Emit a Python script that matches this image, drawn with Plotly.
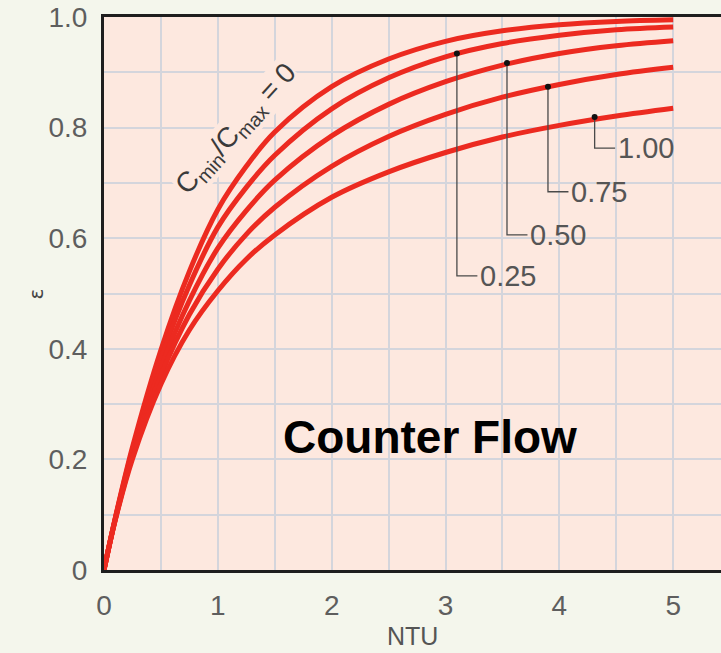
import plotly.graph_objects as go

# Data (counter-flow effectiveness vs NTU)
ntu = [0, 0.1, 0.25, 0.5, 0.75, 1, 1.25, 1.5, 2, 2.5, 3, 3.5, 4, 4.5, 5]
eff_cr_000 = [0, 0.095, 0.222, 0.398, 0.540, 0.652, 0.730, 0.792, 0.874, 0.924, 0.956, 0.975, 0.986, 0.992, 0.995]
eff_cr_025 = [0, 0.094, 0.217, 0.383, 0.515, 0.620, 0.692, 0.750, 0.834, 0.890, 0.928, 0.952, 0.967, 0.977, 0.982]
eff_cr_050 = [0, 0.093, 0.211, 0.366, 0.487, 0.582, 0.650, 0.705, 0.785, 0.842, 0.883, 0.913, 0.934, 0.948, 0.957]
eff_cr_075 = [0, 0.092, 0.206, 0.352, 0.462, 0.544, 0.607, 0.656, 0.730, 0.784, 0.824, 0.855, 0.878, 0.896, 0.909]
eff_cr_100 = [0, 0.091, 0.201, 0.336, 0.434, 0.505, 0.562, 0.606, 0.674, 0.720, 0.755, 0.783, 0.804, 0.821, 0.835]

# Leader callouts: label, dot NTU, dot effectiveness, elbow effectiveness, elbow end NTU
callout_labels = ["0.25", "0.50", "0.75", "1.00"]
callout_ntu = [3.10, 3.54, 3.90, 4.31]
callout_eff = [0.934, 0.917, 0.874, 0.819]
callout_elbow_eff = [0.532, 0.606, 0.684, 0.763]
callout_end_ntu = [3.28, 3.72, 4.08, 4.49]

x_ticks = [0, 1, 2, 3, 4, 5]
x_ticktext = ["0", "1", "2", "3", "4", "5"]
y_ticks = [0, 0.2, 0.4, 0.6, 0.8, 1.0]
y_ticktext = ["0", "0.2", "0.4", "0.6", "0.8", "1.0"]

RED = "#ec2a20"
PLOT_BG = "#fde8df"
GRID = "#d4d5dc"
TICK_COL = "#5e5e5e"

fig = go.Figure()
for series in [eff_cr_000, eff_cr_025, eff_cr_050, eff_cr_075, eff_cr_100]:
    fig.add_trace(go.Scatter(
        x=ntu, y=series, mode="lines",
        line=dict(color=RED, width=5, shape="spline", smoothing=1.0),
        showlegend=False, hoverinfo="skip"))

# leader lines
for lab, xn, ye, yb, xe in zip(callout_labels, callout_ntu, callout_eff, callout_elbow_eff, callout_end_ntu):
    fig.add_trace(go.Scatter(
        x=[xn, xn, xe], y=[ye, yb, yb], mode="lines",
        line=dict(color="#4a4a4a", width=1.3), showlegend=False, hoverinfo="skip"))
    fig.add_annotation(x=xe, y=yb, text=lab, showarrow=False, xanchor="left", yanchor="middle",
                       xshift=1, font=dict(family="Liberation Sans, Arial", size=29, color="#555555"))

fig.add_trace(go.Scatter(
    x=callout_ntu, y=callout_eff, mode="markers",
    marker=dict(color="#111111", size=6), showlegend=False, hoverinfo="skip"))

# rotated curve label
fig.add_annotation(x=1.17, y=0.796, text="C<sub>min</sub>/C<sub>max</sub> = 0", showarrow=False,
                   textangle=-48, bgcolor=PLOT_BG, borderpad=0,
                   font=dict(family="Liberation Sans, Arial", size=28, color="#3a3a3a"))

# Counter Flow text
fig.add_annotation(x=2.86, y=0.24, text="<b>Counter Flow</b>", showarrow=False,
                   font=dict(family="Liberation Sans, Arial", size=46, color="#000000"))

# axis titles
fig.add_annotation(xref="paper", yref="paper", x=0.5, y=-0.12, text="NTU", showarrow=False,
                   yanchor="middle", font=dict(family="Liberation Sans, Arial", size=25, color="#555555"))
fig.add_annotation(xref="paper", x=-0.133, yref="paper", y=0.5, text="ε", showarrow=False,
                   textangle=-90, font=dict(family="DejaVu Sans", size=20, color="#444444"))

fig.update_xaxes(range=[0, 5.42], tickvals=x_ticks, ticktext=x_ticktext,
                 showgrid=True, gridcolor=GRID, gridwidth=2,
                 minor=dict(dtick=0.5, tick0=0, showgrid=True, gridcolor=GRID, gridwidth=2),
                 zeroline=False, showline=True, linecolor="#1e1e1e", linewidth=3, mirror=True,
                 ticks="outside", ticklen=8, tickcolor="rgba(0,0,0,0)",
                 tickfont=dict(family="Liberation Sans, Arial", size=28, color=TICK_COL))
fig.update_yaxes(range=[0, 1.0], tickvals=y_ticks, ticktext=y_ticktext,
                 showgrid=True, gridcolor=GRID, gridwidth=2,
                 minor=dict(dtick=0.1, tick0=0, showgrid=True, gridcolor=GRID, gridwidth=2),
                 zeroline=False, showline=True, linecolor="#1e1e1e", linewidth=3, mirror=False,
                 ticks="outside", ticklen=8, tickcolor="rgba(0,0,0,0)",
                 tickfont=dict(family="Liberation Sans, Arial", size=28, color=TICK_COL))

fig.update_layout(width=721, height=653, margin=dict(l=104, r=0, t=17, b=83),
                  paper_bgcolor="#f4f6ec", plot_bgcolor=PLOT_BG, showlegend=False)

fig.write_html("out.html")
